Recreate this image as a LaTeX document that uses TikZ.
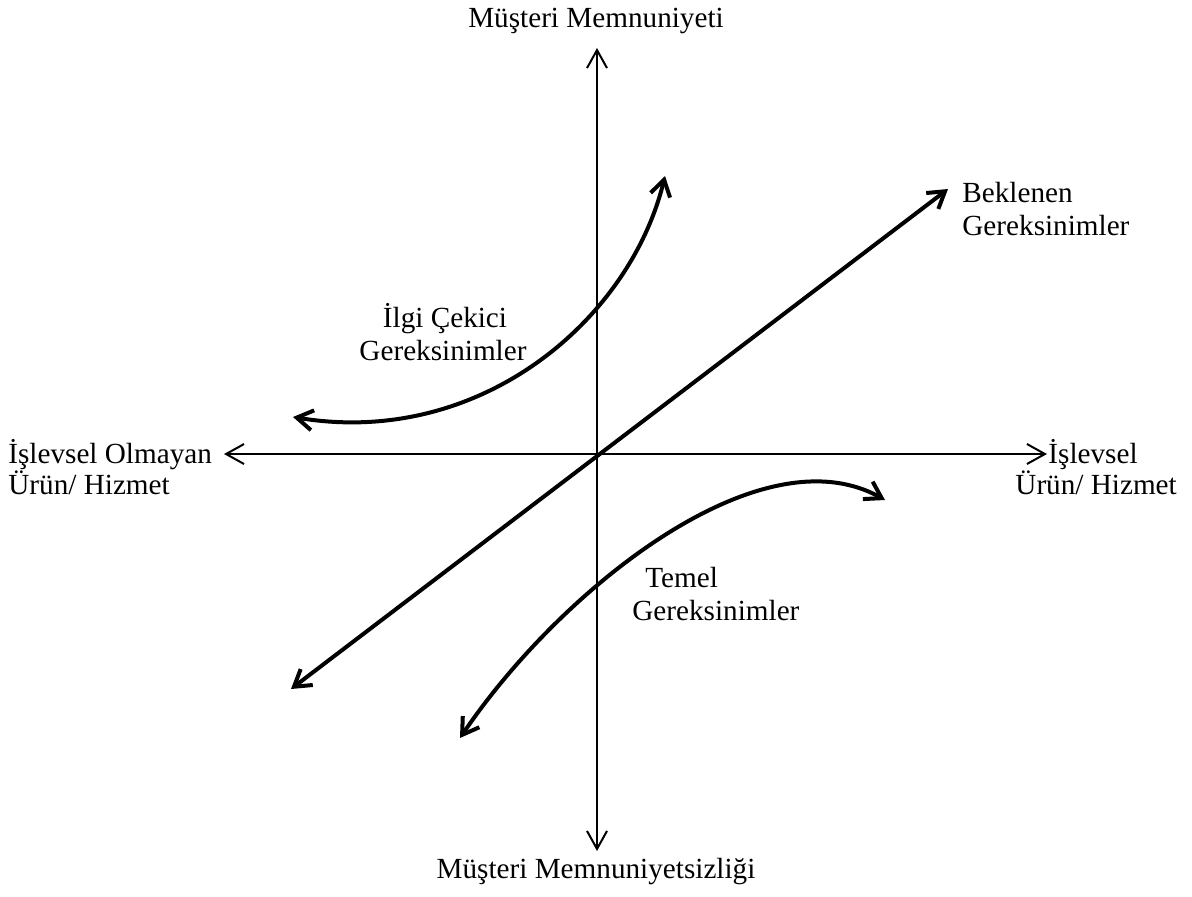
\documentclass[tikz,border=0pt]{standalone}
\usepackage{fontspec}
\setmainfont{Liberation Serif}
\usetikzlibrary{arrows.meta}
\tikzset{
  ax/.style={line width=1pt, {Straight Barb[length=9pt,width=10pt]}-{Straight Barb[length=9pt,width=10pt]}},
  cv/.style={line width=2pt, {Straight Barb[length=8pt,width=10pt]}-{Straight Barb[length=8pt,width=10pt]}},
  lbl/.style={font=\fontsize{14.6}{16}\selectfont, inner sep=0pt}
}
\begin{document}
\begin{tikzpicture}[x=0.5pt, y=-0.5pt]
  \useasboundingbox (0,0) rectangle (1192,896);
  % axes
  \coordinate (top) at (597,48);
  \coordinate (bot) at (597,851);
  \coordinate (lft) at (224,454);
  \coordinate (rgt) at (1047,454);
  \draw[ax] (bot) -- (top);
  \draw[ax] (lft) -- (rgt);
  % curves
  \coordinate (d1) at (291,689);
  \coordinate (d2) at (948,189);
  \coordinate (i1) at (293,417);
  \coordinate (i2) at (665,176);
  \coordinate (t1) at (460,738);
  \coordinate (t2) at (885,500);
  \draw[cv] (d1) -- (d2);
  \draw[cv] (i1) .. controls (480,448) and (630,320) .. (i2);
  \draw[cv] (t1) .. controls (560,590) and (760,430) .. (t2);
  % labels
  \node[lbl, anchor=base] (sat) at (596,27) {Müşteri Memnuniyeti};
  \node[lbl, anchor=base] (dis) at (596,878) {Müşteri Memnuniyetsizliği};
  \node[lbl, anchor=base west] (nf1) at (8,463) {İşlevsel Olmayan};
  \node[lbl, anchor=base west] (nf2) at (8,494) {Ürün/ Hizmet};
  \node[lbl, anchor=base west] (fn1) at (1048,463) {İşlevsel};
  \node[lbl, anchor=base west] (fn2) at (1015,494) {Ürün/ Hizmet};
  \node[lbl, anchor=base west] (exp1) at (962,202) {Beklenen};
  \node[lbl, anchor=base west] (exp2) at (962,235) {Gereksinimler};
  \node[lbl, anchor=base] (att1) at (445,327) {İlgi Çekici};
  \node[lbl, anchor=base] (att2) at (443,360) {Gereksinimler};
  \node[lbl, anchor=base west] (bas1) at (645,587) {Temel};
  \node[lbl, anchor=base west] (bas2) at (632,620) {Gereksinimler};
\end{tikzpicture}
\end{document}
